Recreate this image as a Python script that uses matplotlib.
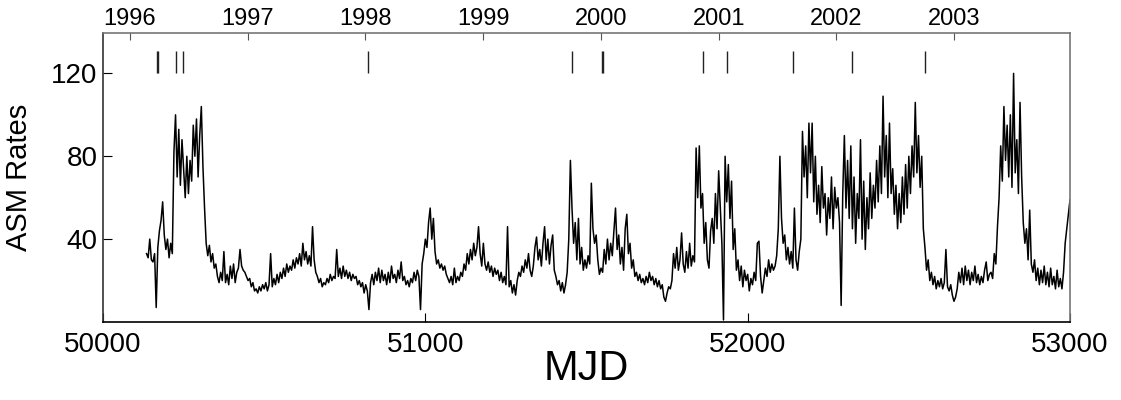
import matplotlib
matplotlib.use("Agg")
import matplotlib.pyplot as plt
import numpy as np

plt.rcParams['font.family'] = ['Liberation Sans', 'DejaVu Sans']

# ASM light curve, 5-day samples starting at MJD 50135
mjd_start = 50135
mjd_step = 5
rate = [
    33, 31, 40, 30, 29, 33, 7, 36, 44, 49,        # 50135
    58, 42, 35, 40, 31, 38, 33, 82, 100, 70,      # 50185
    93, 66, 88, 74, 60, 80, 62, 78, 68, 95,       # 50235
    80, 98, 70, 90, 104, 75, 55, 38, 32, 37,      # 50285
    29, 33, 26, 28, 22, 19, 24, 20, 34, 19,       # 50335
    23, 18, 27, 21, 28, 19, 24, 26, 35, 27,       # 50385
    25, 24, 22, 20, 21, 17, 19, 15, 16, 14,       # 50435
    17, 15, 18, 16, 19, 15, 18, 33, 17, 21,       # 50485
    18, 23, 19, 24, 21, 26, 22, 28, 24, 27,       # 50535
    25, 30, 26, 31, 28, 33, 27, 38, 30, 34,       # 50585
    28, 32, 27, 46, 30, 24, 22, 19, 21, 17,       # 50635
    19, 18, 21, 19, 23, 20, 22, 21, 35, 22,       # 50685
    26, 21, 27, 22, 25, 21, 24, 20, 23, 21,       # 50735
    22, 18, 20, 17, 19, 14, 18, 15, 6, 19,        # 50785
    23, 18, 24, 20, 26, 19, 25, 20, 23, 18,       # 50835
    24, 19, 27, 21, 23, 19, 25, 21, 29, 20,       # 50885
    22, 18, 20, 17, 21, 19, 24, 20, 25, 22,       # 50935
    6, 28, 33, 40, 36, 48, 55, 40, 50, 34,        # 50985
    28, 30, 26, 28, 25, 27, 23, 21, 19, 22,       # 51035
    18, 26, 19, 22, 20, 24, 22, 28, 25, 33,       # 51085
    28, 35, 30, 38, 32, 36, 46, 33, 27, 38,       # 51135
    28, 25, 29, 24, 27, 22, 26, 23, 25, 20,       # 51185
    24, 19, 22, 18, 46, 17, 20, 14, 18, 13,       # 51235
    20, 24, 22, 27, 24, 30, 26, 33, 25, 22,       # 51285
    27, 36, 41, 30, 35, 27, 38, 46, 30, 40,       # 51335
    28, 37, 42, 25, 22, 18, 20, 15, 19, 14,       # 51385
    18, 24, 40, 78, 55, 38, 48, 30, 50, 28,       # 51435
    36, 25, 30, 26, 32, 28, 67, 45, 38, 42,       # 51485
    30, 23, 26, 24, 35, 28, 40, 30, 38, 32,       # 51535
    44, 55, 35, 42, 28, 36, 25, 45, 52, 33,       # 51585
    38, 26, 30, 22, 24, 20, 23, 19, 21, 18,       # 51635
    22, 19, 24, 20, 22, 18, 21, 17, 20, 16,       # 51685
    18, 12, 10, 14, 17, 16, 20, 33, 26, 36,       # 51735
    25, 30, 43, 28, 24, 34, 26, 38, 27, 32,       # 51785
    29, 84, 60, 85, 55, 62, 38, 48, 30, 26,       # 51835
    44, 50, 38, 62, 45, 73, 55, 38, 1, 80,        # 51885
    58, 76, 50, 68, 35, 45, 25, 30, 20, 27,       # 51935
    17, 25, 20, 23, 15, 21, 18, 24, 20, 38,       # 51985
    39, 22, 14, 20, 26, 22, 30, 24, 28, 25,       # 52035
    27, 32, 45, 80, 50, 38, 42, 30, 36, 28,       # 52085
    34, 26, 55, 30, 25, 34, 40, 92, 70, 85,       # 52135
    60, 96, 72, 96, 58, 80, 52, 66, 48, 75,       # 52185
    55, 62, 42, 60, 50, 70, 45, 65, 55, 60,       # 52235
    48, 8, 62, 90, 55, 78, 50, 85, 45, 70,        # 52285
    38, 62, 50, 88, 40, 68, 35, 60, 45, 72,       # 52335
    50, 66, 55, 78, 58, 85, 62, 109, 70, 90,      # 52385
    60, 96, 62, 74, 52, 66, 45, 62, 48, 70,       # 52435
    52, 76, 55, 80, 62, 85, 70, 106, 72, 90,      # 52485
    65, 80, 45, 36, 25, 30, 20, 24, 18, 22,       # 52535
    16, 20, 17, 21, 16, 19, 35, 17, 15, 18,       # 52585
    13, 10, 12, 16, 24, 19, 26, 18, 27, 20,       # 52635
    25, 18, 24, 20, 27, 19, 23, 18, 22, 19,       # 52685
    25, 29, 20, 23, 24, 21, 33, 28, 46, 60,       # 52735
    85, 68, 104, 78, 95, 70, 100, 65, 120, 72,    # 52785
    88, 62, 106, 70, 48, 38, 45, 30, 54, 28,      # 52835
    24, 30, 20, 26, 18, 25, 19, 27, 18, 24,       # 52885
    17, 26, 18, 22, 16, 25, 17, 21, 16, 24,       # 52935
    38, 45, 52, 59,                               # 52985
]
mjd = mjd_start + mjd_step * np.arange(len(rate))

# event markers drawn as short vertical bars near the top
event_mjd = [50168, 50172, 50225, 50249, 50821, 51456, 51547, 51551,
             51862, 51935, 52141, 52325, 52551]
event_lo, event_hi = 120, 131

year_labels = ['1996', '1997', '1998', '1999', '2000', '2001', '2002', '2003']
year_mjd = [50083, 50449, 50814, 51179, 51544, 51910, 52275, 52640]

mjd_ticks = [50000, 51000, 52000, 53000]
rate_ticks = [40, 80, 120]

fig = plt.figure(figsize=(11.21, 4.0), dpi=100)
ax = fig.add_axes([0.0919, 0.195, 0.8626, 0.7225])

ax.plot(mjd, rate, color='black', lw=1.1)
ax.vlines(event_mjd, event_lo, event_hi, color='#222222', lw=1.0)

ax.set_xlim(50000, 53000)
ax.set_ylim(0, 139.5)
ax.set_xticks(mjd_ticks)
ax.set_yticks(rate_ticks)
ax.tick_params(axis='x', direction='in', length=6.5, labelsize=20, pad=7)
ax.tick_params(axis='y', direction='in', length=6.5, labelsize=20, pad=4)
ax.set_xlabel('MJD', fontsize=30)
ax.xaxis.set_label_coords(0.5, -0.095)
ax.set_ylabel('ASM Rates', fontsize=21)
ax.yaxis.set_label_coords(-0.072, 0.5)

for s in ['top', 'right']:
    ax.spines[s].set_color('#777777')
ax.spines['left'].set_color('#333333')
ax.spines['bottom'].set_color('black')
for s in ax.spines.values():
    s.set_linewidth(1.2)

top = ax.twiny()
top.set_xlim(ax.get_xlim())
top.set_xticks(year_mjd)
top.set_xticklabels(year_labels)
top.tick_params(axis='x', direction='in', length=5, labelsize=17, pad=2,
                color='#555555')
for s in top.spines.values():
    s.set_visible(False)

fig.savefig('out.png', dpi=100)
